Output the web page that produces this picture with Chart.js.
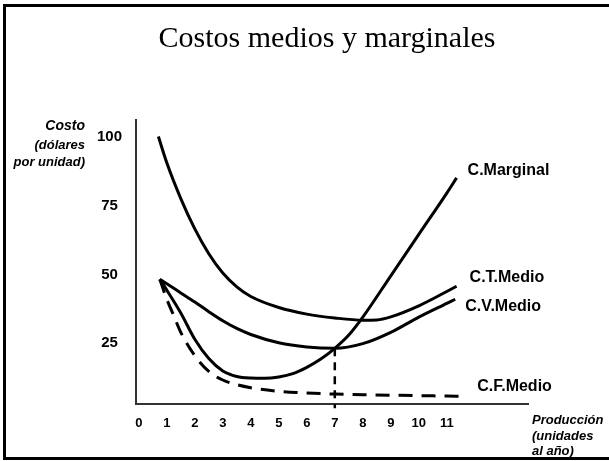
<!DOCTYPE html>
<html lang="es">
<head>
<meta charset="utf-8">
<title>Costos medios y marginales</title>
<script src="https://cdn.jsdelivr.net/npm/chart.js@4.4.1/dist/chart.umd.min.js"></script>
<style>
    html, body { margin: 0; padding: 0; background: #fff; }
    canvas { display: block; }
</style>
</head>
<body>
<canvas id="costChart" width="609" height="461"></canvas>
<script>
// Datos (producción: unidades al año, costo: dólares por unidad)

const produccionTicks = [0, 1, 2, 3, 4, 5, 6, 7, 8, 9, 10, 11];
const costoTicks = [25, 50, 75, 100];

// C.Marginal
const cmgX = [0.75, 1, 1.5, 2, 2.5, 3, 3.5, 4, 4.5, 5, 5.5, 6, 6.5, 7, 7.5, 8, 9, 10, 11, 11.35];
const cmgY = [48.2, 44.3, 36, 26.5, 19.5, 15, 13, 12.4, 12.3, 12.8, 14, 16.3, 19.3, 23.2, 28, 34.5, 49.5, 64.5, 79.5, 85];

// C.T.Medio
const ctmX = [0.7, 1, 1.5, 2, 2.5, 3, 3.5, 4, 5, 6, 7, 8, 8.5, 9, 10, 11, 11.35];
const ctmY = [100, 90.5, 77.5, 66.5, 57.5, 50.5, 45.5, 42, 38, 35.6, 34.2, 33.4, 33.5, 34.6, 38.6, 43.8, 45.7];

// C.V.Medio
const cvmX = [0.75, 1, 1.5, 2, 2.5, 3, 3.5, 4, 5, 6, 7, 8, 9, 10, 11, 11.3];
const cvmY = [48.2, 46.6, 43.3, 40, 36.5, 33.2, 30.4, 28.2, 25.2, 23.7, 23.2, 24.9, 29, 34.5, 39.5, 41];

// C.F.Medio
const cfmX = [0.75, 1, 1.25, 1.5, 2, 2.5, 3, 3.5, 4, 5, 6, 7, 8, 9, 10, 11, 11.55];
const cfmY = [48.2, 41, 35, 29, 20.5, 14.8, 11.7, 10, 8.9, 7.6, 7, 6.6, 6.4, 6.2, 6, 5.9, 5.8];

// línea punteada vertical en el mínimo del C.V.Medio
const minimoX = [7, 7];
const minimoY = [23.2, 1.5];

const toPoints = (xs, ys) => xs.map((x, i) => ({ x: x, y: ys[i] }));

// Marco, título, títulos de ejes y nombres de las curvas

const textosPlugin = {
    id: 'textos',
    afterDraw(chart) {
        const ctx = chart.ctx;
        ctx.save();
        ctx.fillStyle = '#000';

        ctx.fillRect(3, 4, 606, 3);
        ctx.fillRect(3, 4, 3, 456);
        ctx.fillRect(3, 457, 606, 3);

        ctx.font = '30px "Liberation Serif"';
        ctx.textAlign = 'center';
        ctx.textBaseline = 'alphabetic';
        ctx.fillText('Costos medios y marginales', 327, 47);

        ctx.textAlign = 'right';
        ctx.textBaseline = 'middle';
        ctx.font = 'italic bold 14px "Liberation Sans"';
        ctx.fillText('Costo', 85, 126);
        ctx.font = 'italic bold 13px "Liberation Sans"';
        ctx.fillText('(dólares', 85, 145);
        ctx.fillText('por unidad)', 85, 162);

        ctx.textAlign = 'left';
        ctx.fillText('Producción', 532, 420);
        ctx.fillText('(unidades', 532, 436);
        ctx.fillText('al año)', 532, 451);

        ctx.font = 'bold 16px "Liberation Sans"';
        chart.data.datasets.forEach((ds, i) => {
            if (!ds.etiqueta) return;
            const pts = chart.getDatasetMeta(i).data;
            const last = pts[pts.length - 1];
            ctx.fillText(ds.etiqueta, last.x + ds.etiquetaDx, last.y + ds.etiquetaDy);
        });
        ctx.restore();
    }
};

const curva = {
    borderColor: '#000',
    borderWidth: 3,
    pointRadius: 0,
    cubicInterpolationMode: 'monotone',
    fill: false,
};

const costChart = document.getElementById('costChart');

const costChartConfig = {
    type: 'line',
    data: {
        datasets: [
            { ...curva, label: 'C.Marginal', data: toPoints(cmgX, cmgY), etiqueta: 'C.Marginal', etiquetaDx: 11, etiquetaDy: -7 },
            { ...curva, label: 'C.T.Medio', data: toPoints(ctmX, ctmY), etiqueta: 'C.T.Medio', etiquetaDx: 13, etiquetaDy: -9 },
            { ...curva, label: 'C.V.Medio', data: toPoints(cvmX, cvmY), etiqueta: 'C.V.Medio', etiquetaDx: 10, etiquetaDy: 7 },
            { ...curva, label: 'C.F.Medio', data: toPoints(cfmX, cfmY), borderDash: [14, 9], etiqueta: 'C.F.Medio', etiquetaDx: 15, etiquetaDy: -10 },
            { ...curva, label: 'mínimo', data: toPoints(minimoX, minimoY), borderDash: [8, 6], borderWidth: 2.5, tension: 0, cubicInterpolationMode: 'default', clip: false },
        ]
    },
    options: {
        responsive: false,
        animation: false,
        devicePixelRatio: 1,
        layout: {
            padding: { top: 120, right: 81, bottom: 0, left: 0 }
        },
        plugins: {
            legend: { display: false },
            title: { display: false },
            tooltip: { enabled: false },
        },
        scales: {
            x: {
                type: 'linear',
                min: -0.1,
                max: 13.9,
                afterBuildTicks: (scale) => { scale.ticks = produccionTicks.map(v => ({ value: v })); },
                afterFit: (scale) => { scale.height = 57; },
                grid: { display: false },
                border: { display: true, color: '#333', width: 2 },
                ticks: {
                    color: '#000',
                    padding: 4,
                    maxRotation: 0,
                    autoSkip: false,
                    font: { family: '"Liberation Sans"', size: 13, weight: 'bold' },
                },
            },
            y: {
                type: 'linear',
                min: 3,
                max: 106,
                afterBuildTicks: (scale) => { scale.ticks = costoTicks.map(v => ({ value: v })); },
                afterFit: (scale) => { scale.width = 136; },
                grid: { display: false },
                border: { display: true, color: '#333', width: 2 },
                ticks: {
                    color: '#000',
                    padding: 6,
                    crossAlign: 'center',
                    font: { family: '"Liberation Sans"', size: 15, weight: 'bold' },
                },
            },
        },
    },
    plugins: [textosPlugin],
};

new Chart(costChart, costChartConfig);
</script>
</body>
</html>
